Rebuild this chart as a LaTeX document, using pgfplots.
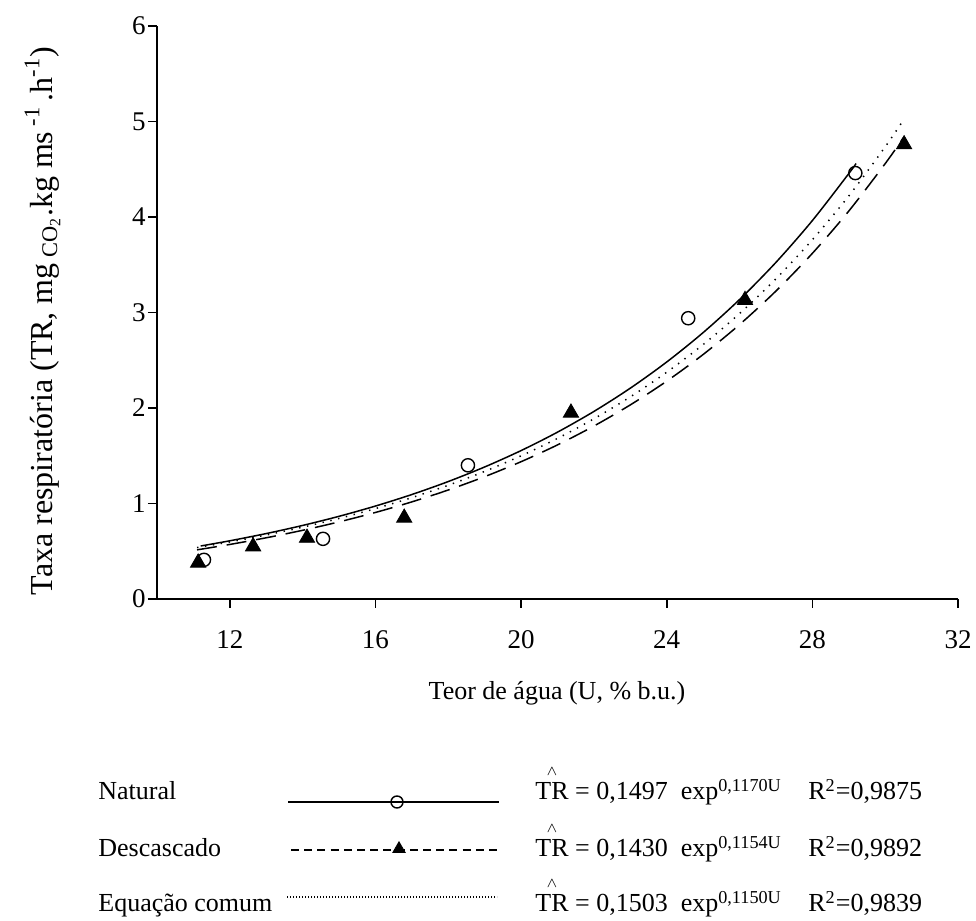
\documentclass[border=0pt]{standalone}
\usepackage{fontspec}
\setmainfont{Liberation Serif}
\usepackage{pgfplots}
\pgfplotsset{compat=1.18}
\newcommand\fs{\fontsize{13}{15.6}\selectfont}
\newcommand\hTR{{\setbox0\hbox{TR}\rlap{\hbox to\wd0{\hss\raisebox{0.95em}{\fontsize{7.5}{7.5}\selectfont$\wedge$}\hss}}\box0}}
\begin{document}
\begin{tikzpicture}
\path[use as bounding box] (0,0) rectangle (488pt,460.5pt);
% main axis
\begin{axis}[
  at={(78.5pt,161pt)}, anchor=south west,
  scale only axis, width=400.5pt, height=286.5pt,
  xmin=10, xmax=32, ymin=0, ymax=6,
  axis lines*=left, axis line style={line width=0.9pt},
  xtick={12,16,20,24,28,32}, ytick={0,1,2,3,4,5,6},
  tick align=outside, major tick length=4.5pt,
  tick style={line width=0.8pt, black},
  /pgf/number format/assume math mode=true,
  tick label style={font=\fontsize{13.5}{16}\selectfont},
  xticklabel style={inner sep=0pt, yshift=-11pt},
  yticklabel style={inner sep=0pt, xshift=-1pt},
  clip=false,
]
\addplot[black, line width=0.75pt, smooth] coordinates {
(11.2,0.555)(12,0.6095)(13,0.6851)(14,0.7702)(15,0.8658)(16,0.9733)(17,1.0941)(18,1.2299)(19,1.3826)(20,1.5541)(21,1.7470)(22,1.9639)(23,2.2076)(24,2.4817)(25,2.7896)(26,3.1359)(27,3.5251)(28,3.9626)(29,4.4544)(29.2,4.560)};
\addplot[black, line width=0.75pt, smooth, dash pattern=on 10pt off 5pt] coordinates {
(11.1,0.5147)(12,0.5711)(13,0.6410)(14,0.7194)(15,0.8075)(16,0.9061)(17,1.0170)(18,1.1414)(19,1.2810)(20,1.4377)(21,1.6136)(22,1.8110)(23,2.0325)(24,2.2811)(25,2.5602)(26,2.8734)(27,3.2248)(28,3.6193)(29,4.0620)(30,4.5588)(30.5,4.8297)};
\addplot[black, line width=0.75pt, smooth, dash pattern=on 0.7pt off 3.3pt] coordinates {
(11.1,0.5387)(12,0.5974)(13,0.6702)(14,0.7519)(15,0.8436)(16,0.9464)(17,1.0617)(18,1.1911)(19,1.3363)(20,1.4991)(21,1.6818)(22,1.8868)(23,2.1167)(24,2.3747)(25,2.6641)(26,2.9888)(27,3.3531)(28,3.7617)(29,4.2202)(30,4.7345)(30.5,5.0148)};
\addplot[only marks, mark=triangle*, mark size=4.4pt, black] coordinates {
(11.13,0.38)(12.64,0.55)(14.12,0.64)(16.79,0.85)(21.37,1.95)(26.15,3.13)(30.52,4.76)};
\addplot[only marks, mark=o, mark size=3.3pt, black, line width=0.7pt, mark options={fill=white}] coordinates {
(11.29,0.41)(14.56,0.63)(18.54,1.40)(24.59,2.94)(29.18,4.46)};
\end{axis}
% overlay axis in pixel units for labels and legend
\begin{axis}[
  at={(0pt,0pt)}, anchor=south west,
  scale only axis, width=488pt, height=460.5pt,
  xmin=0, xmax=976, ymin=0, ymax=921,
  hide axis, clip=false,
]
\addplot[black, line width=0.75pt] coordinates {(288,119)(499,119)};
\addplot[only marks, mark=o, mark size=3pt, black, line width=0.7pt, mark options={fill=white}] coordinates {(397,119)};
\addplot[black, line width=0.75pt, dash pattern=on 4pt off 2.6pt] coordinates {(291,71)(499,71)};
\addplot[only marks, mark=triangle*, mark size=3.6pt, black] coordinates {(399,72)};
\addplot[black, line width=0.8pt, dash pattern=on 0.6pt off 0.9pt] coordinates {(287,24)(497,24)};
\node[anchor=base, font=\fs] at (axis cs:557,221) {Teor de água (U, \% b.u.)};
\node[anchor=base, rotate=90, font=\fontsize{16}{19}\selectfont] at (axis cs:52,600) {Taxa respiratória (TR, mg\,\textsubscript{CO\textsubscript{2}}.kg ms\,\textsuperscript{-1}\,.h\textsuperscript{-1})};
\node[anchor=base west, font=\fs, inner sep=0pt] at (axis cs:98,121) {Natural};
\node[anchor=base west, font=\fs, inner sep=0pt] at (axis cs:98,64) {Descascado};
\node[anchor=base west, font=\fs, inner sep=0pt] at (axis cs:98,9) {Equação comum};
\node[anchor=base west, font=\fs, inner sep=0pt] at (axis cs:535,121) {\hTR{} = 0,1497\ \ exp\textsuperscript{0,1170U}};
\node[anchor=base west, font=\fs, inner sep=0pt] at (axis cs:535,64) {\hTR{} = 0,1430\ \ exp\textsuperscript{0,1154U}};
\node[anchor=base west, font=\fs, inner sep=0pt] at (axis cs:535,9) {\hTR{} = 0,1503\ \ exp\textsuperscript{0,1150U}};
\node[anchor=base west, font=\fs, inner sep=0pt] at (axis cs:808,121) {R\textsuperscript{2}=0,9875};
\node[anchor=base west, font=\fs, inner sep=0pt] at (axis cs:808,64) {R\textsuperscript{2}=0,9892};
\node[anchor=base west, font=\fs, inner sep=0pt] at (axis cs:808,9) {R\textsuperscript{2}=0,9839};
\end{axis}
\end{tikzpicture}
\end{document}
